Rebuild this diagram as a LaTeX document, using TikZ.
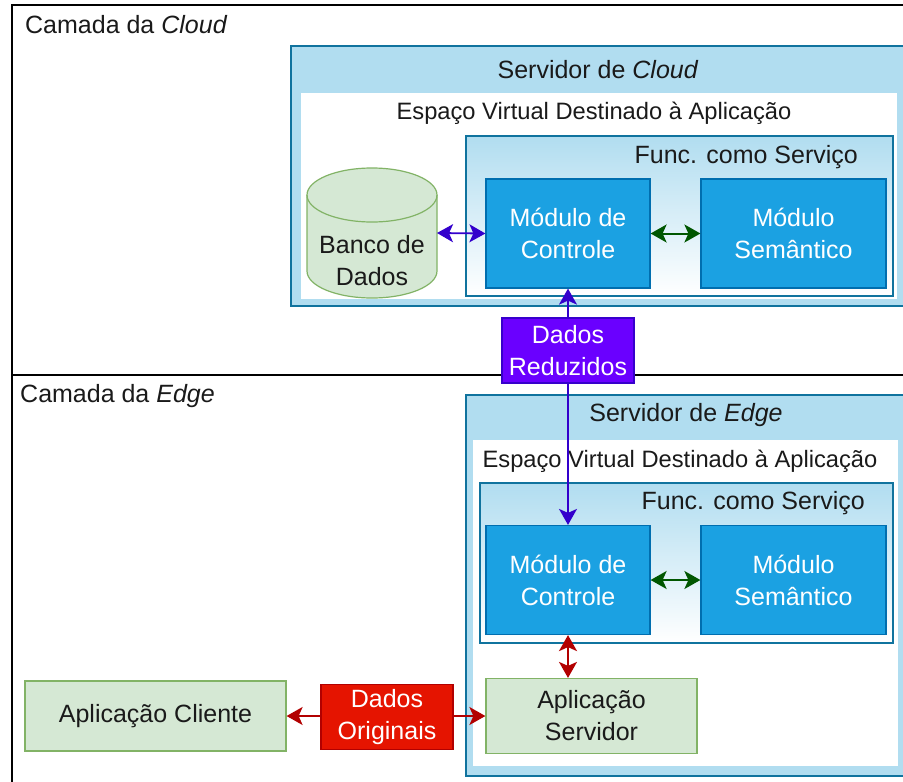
\documentclass[tikz,border=0pt]{standalone}
\usepackage{fontspec}
\setmainfont{Liberation Sans}
\usetikzlibrary{arrows.meta}

\definecolor{srvfill}{HTML}{B1DDF0}
\definecolor{srvline}{HTML}{10739E}
\definecolor{modfill}{HTML}{1BA1E2}
\definecolor{modline}{HTML}{006EAF}
\definecolor{grnfill}{HTML}{D5E8D4}
\definecolor{grnline}{HTML}{82B366}
\definecolor{redfill}{HTML}{E51400}
\definecolor{redline}{HTML}{B20000}
\definecolor{purfill}{HTML}{6A00FF}
\definecolor{purline}{HTML}{3700CC}
\definecolor{arrblue}{HTML}{3300CC}
\definecolor{arrgreen}{HTML}{005700}
\definecolor{arrred}{HTML}{B20000}
\definecolor{txt}{HTML}{1A1A1A}

\tikzset{
  box/.style={anchor=north west, inner sep=0pt, outer sep=0pt},
  layer/.style={box, draw=black, line width=1.8pt},
  server/.style={box, fill=srvfill, draw=srvline, line width=1.6pt},
  vspace/.style={box, fill=white},
  faas/.style={box, draw=srvline, line width=1.4pt, top color=srvfill, bottom color=white},
  module/.style={fill=modfill, draw=modline, line width=1.2pt, text=white,
    align=center, inner sep=0pt, minimum width=#1, minimum height=109pt},
  greenbox/.style={fill=grnfill, draw=grnline, line width=1.2pt, text=txt,
    align=center, inner sep=0pt},
  tag/.style={line width=1.2pt, text=white, align=center, inner sep=0pt,
    minimum width=132pt, minimum height=65pt},
  caption/.style={text=txt, inner sep=0pt},
  smallcap/.style={caption, font=\fontsize{23.7}{30}\selectfont},
  link/.style={line width=2pt,
    {Stealth[length=16pt,width=18pt,inset=4pt]}-{Stealth[length=16pt,width=18pt,inset=4pt]}},
}

\begin{document}
\begin{tikzpicture}[x=1pt, y=-1pt, font=\fontsize{25}{32}\selectfont]
\useasboundingbox (0,0) rectangle (903,782);
\clip (0,0) rectangle (903,782);

% layers
\node[layer, minimum width=918pt, minimum height=370pt] (cloudlayer) at (12,5) {};
\node[layer, minimum width=918pt, minimum height=430pt] (edgelayer) at (12,375) {};
\node[caption, anchor=west] (cloudtitle) at (25,25) {Camada da \textit{Cloud}};
\node[caption, anchor=west] (edgetitle) at (20,396) {Camada da \textit{Edge}};

% cloud server
\node[server, minimum width=615pt, minimum height=260pt] (csrv) at (291,46) {};
\node[vspace, minimum width=596pt, minimum height=206pt] (cspace) at (301,93) {};
\node[faas, minimum width=427pt, minimum height=160pt] (cfaas) at (466,136) {};
\node[caption] (csrvtitle) at (598,70) {Servidor de \textit{Cloud}};
\node[smallcap] (cspacetitle) at (594,113) {Espaço Virtual Destinado à Aplicação};
\node[caption, anchor=east] (cfaastitle) at (858,157) {Func. como Serviço};
\node[module=164pt] (cctrl) at (568,233.5) {Módulo de\\Controle};
\node[module=185pt] (csem) at (793.5,233.5) {Módulo\\Semântico};

% database cylinder
\fill[grnfill] (307,195) -- (307,271) arc[start angle=180, end angle=360, x radius=65, y radius=-27] -- (437,195) arc[start angle=0, end angle=180, x radius=65, y radius=-27] -- cycle;
\draw[grnline, line width=1.2pt] (307,195) -- (307,271) arc[start angle=180, end angle=360, x radius=65, y radius=-27] -- (437,195);
\draw[grnline, line width=1.2pt] (372,195) ellipse[x radius=65, y radius=27];
\node[caption, align=center] (db) at (372,261) {Banco de\\Dados};
\coordinate (dbright) at (437,233);

% edge server
\node[server, minimum width=440pt, minimum height=381pt] (esrv) at (466,395) {};
\node[vspace, minimum width=425pt, minimum height=326pt] (espace) at (473,440) {};
\node[faas, minimum width=413pt, minimum height=160pt] (efaas) at (480,483) {};
\node[caption] (esrvtitle) at (686,415) {Servidor de \textit{Edge}};
\node[smallcap] (espacetitle) at (680,461) {Espaço Virtual Destinado à Aplicação};
\node[caption, anchor=east] (efaastitle) at (865,503) {Func. como Serviço};
\node[module=164pt] (ectrl) at (568,580) {Módulo de\\Controle};
\node[module=185pt] (esem) at (793.5,580) {Módulo\\Semântico};
\node[greenbox, minimum width=211pt, minimum height=75pt] (appsrv) at (591.5,716) {Aplicação\\Servidor};
\node[greenbox, minimum width=261pt, minimum height=70pt] (client) at (155.5,716) {Aplicação Cliente};

% connectors
\draw[link, arrblue, line width=1.8pt] (dbright) -- (cctrl.west);
\draw[link, arrgreen] (cctrl.east) -- (csem.west);
\draw[link, arrgreen] (ectrl.east) -- (esem.west);
\draw[link, arrblue, line width=1.8pt] (cctrl.south) -- (ectrl.north);
\draw[link, arrred] (ectrl.south) -- (ectrl.south |- appsrv.north);
\draw[link, arrred] (client.east) -- (appsrv.west);

% data tags on the links
\node[tag, fill=purfill, draw=purline] (reduced) at (568,350.5) {Dados\\Reduzidos};
\node[tag, fill=redfill, draw=redline] (original) at (387,717) {Dados\\Originais};
\end{tikzpicture}
\end{document}
